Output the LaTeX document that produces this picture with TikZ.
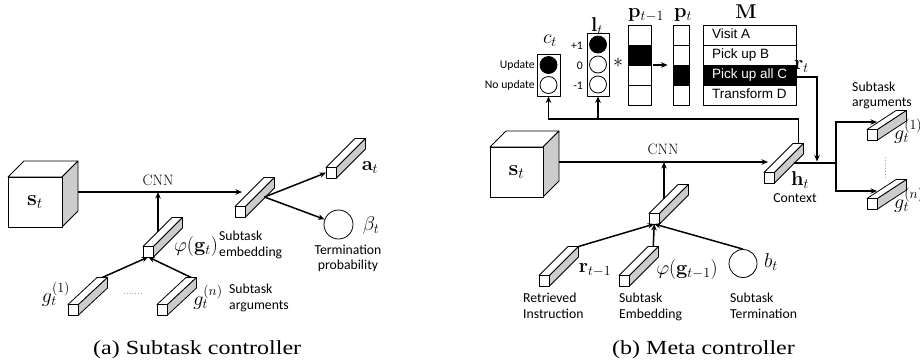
\RequirePackage{fix-cm}
\documentclass[tikz,border=0pt]{standalone}
\usepackage[no-math]{fontspec}
\usetikzlibrary{arrows.meta,calc}
\newfontfamily\labelfont{Carlito}
\newfontfamily\tablefont{Liberation Sans}
\newfontfamily\captionfont{Liberation Serif}
\definecolor{sidegray}{gray}{0.8}

\tikzset{
  outl/.style={draw=black, line width=0.8pt, line join=round},
  wire/.style={line width=1.5pt},
  conn/.style={line width=1.5pt, -{Stealth[length=6.5pt,width=5.5pt]}},
  mlabel/.style={font=\fontsize{20}{22}\selectfont, inner sep=0pt},
  cubelabel/.style={font=\fontsize{22}{24}\selectfont, inner sep=0pt},
  cnnlabel/.style={font=\fontsize{15}{17}\selectfont, inner sep=0pt},
  slabel/.style={font=\labelfont\fontsize{13.7}{15.5}\selectfont, inner sep=0pt, align=left},
  tinylabel/.style={font=\labelfont\fontsize{11.7}{14}\selectfont, inner sep=0pt},
  caplabel/.style={font=\captionfont\fontsize{20}{22}\selectfont, inner sep=0pt},
  memrow/.style={outl, minimum width=93pt, minimum height=20pt, inner xsep=9pt,
    inner ysep=0pt, text height=9.7pt, text depth=2.8pt,
    font=\tablefont\fontsize{13.5}{15}\selectfont},
  lamp/.style={circle, outl, minimum size=17pt, inner sep=0pt},
  % a long 3-D bar seen from the front, receding to the right and up by #1
  pics/bar/.style={code={
    \draw[outl, fill=white] (0,-10.5) -- (29,-10.5-#1) -- (39.5,-10.5-#1) -- (10.5,-10.5) -- cycle;
    \draw[outl, fill=sidegray] (10.5,0) -- (10.5,-10.5) -- (39.5,-10.5-#1) -- (39.5,-#1) -- cycle;
    \draw[outl, fill=white] (0,0) rectangle (10.5,-10.5);
    \coordinate (-fb) at (5.25,0);
    \coordinate (-fl) at (0,-5.25);
    \coordinate (-bt) at (34.25,-10.5-#1);
    \coordinate (-btr) at (39.5,-10.5-#1);
    \coordinate (-rb) at (29.5,-20);
    \coordinate (-up) at (15,-25.5);
    \coordinate (-arg) at (10,-18);
  }},
  pics/bar/.default=29,
  % the state cube: width, height of the front face
  pics/cube/.style 2 args={code={
    \draw[outl, fill=white] (0,-#2) -- (16,-#2-16) -- (#1+16,-#2-16) -- (#1,-#2) -- cycle;
    \draw[outl, fill=sidegray] (#1,0) -- (#1,-#2) -- (#1+16,-#2-16) -- (#1+16,-16) -- cycle;
    \draw[outl, fill=white] (0,0) rectangle (#1,-#2);
    \coordinate (-c) at (#1/2,-#2/2);
    \coordinate (-out) at (#1+16,-35);
  }},
}

\begin{document}
\begin{tikzpicture}[x=1pt,y=-1pt]
\useasboundingbox (0,0) rectangle (920,360);
\clip (0,0) rectangle (920,360);

% ---------------- (a) subtask controller ----------------
\pic (sA) at (8,227) {cube={54}{50}};
\node[cubelabel] (sAlbl) at (sA-c) {$\mathbf{s}_t$};
\pic (gA1) at (68,315) {bar=27};
\pic (gAn) at (157,315) {bar=27};
\pic (phiA) at (143,257) {bar};
\pic (embA) at (235,217) {bar};
\pic (aA) at (326,178) {bar};
\node[circle, outl, minimum size=29pt, inner sep=0pt] (betaA) at (338.5,224.5) {};

\coordinate (embAin) at ($(embA-fl |- sA-out)+(7,0)$);
\coordinate (cnnAjoin) at (phiA-up |- sA-out);
\draw[conn] (sA-out) -- (embAin);
\draw[conn] (phiA-up) -- (cnnAjoin);
\draw[conn] (gA1-bt) -- (phiA-fb);
\draw[conn] (gAn-bt) -- (phiA-fb);
\draw[conn] (embA-rb) -- (aA-fl);
\draw[conn] (embA-rb) -- (betaA);
\draw[gray!70, dotted, line width=0.8pt] (124,293) -- (143,293);

\node[cnnlabel] (cnnA) at (158,180) {CNN};
\node[mlabel] (phiAlbl) at (196,246) {$\varphi(\mathbf{g}_t)$};
\node[slabel, anchor=north west] (embAtxt) at (219,231) {Subtask\\embedding};
\node[mlabel] (aAlbl) at (370,168) {$\mathbf{a}_t$};
\node[mlabel] (betaAlbl) at (371,225) {$\beta_t$};
\node[slabel, align=center, anchor=north] (termA) at (348,244.5) {Termination\\probability};
\node[mlabel] (gA1lbl) at (56,294) {$g_t^{(1)}$};
\node[mlabel] (gAnlbl) at (208,297) {$g_t^{(n)}$};
\node[slabel, anchor=north west] (argA) at (229,284) {Subtask\\arguments};
\node[caplabel, anchor=base west] (capA) at (93,354.5) {\scalebox{1.2}[1]{(a) Subtask controller}};

% ---------------- (b) meta controller ----------------
\pic (sB) at (490,197) {cube={53}{50}};
\node[cubelabel] (sBlbl) at (sB-c) {$\mathbf{s}_t$};
\pic (rB) at (539,286) {bar};
\pic (phiB) at (619,286) {bar};
\pic (midB) at (649,224) {bar};
\node[circle, outl, minimum size=28pt, inner sep=0pt] (bB) at (743,263.5) {};
\pic (hB) at (764,183) {bar};
\pic (g1B) at (867,140) {bar=19};
\pic (gnB) at (867,209) {bar=19};

\coordinate (hBin) at ($(hB-fl |- sB-out)+(4,0)$);
\coordinate (cnnBjoin) at (midB-up |- sB-out);
\draw[conn] (sB-out) -- (hBin);
\draw[conn] (midB-up) -- (cnnBjoin);
\draw[conn] (rB-btr) -- (midB-fb);
\draw[conn] (phiB-bt) -- (midB-fb);
\draw[conn] (bB.north) -- (midB-fb);

% update gate and shift lamps
\node[outl, minimum width=23pt, minimum height=42pt, inner sep=0pt] (cbox) at (548.5,75) {};
\node[lamp, fill=black] (cUpd) at (548.5,65) {};
\node[lamp] (cNo) at (548.5,85) {};
\node[outl, minimum width=22pt, minimum height=63pt, inner sep=0pt] (lbox) at (598,64.5) {};
\node[lamp, fill=black] (lPlus) at (598,44.5) {};
\node[lamp] (lZero) at (598,64.5) {};
\node[lamp] (lMinus) at (598,84.5) {};
\node[tinylabel, anchor=east] (updTxt) at (535,65.5) {Update};
\node[tinylabel, anchor=east] (noTxt) at (535,85.5) {No update};
\node[tinylabel, anchor=base east] (plusTxt) at (583,49) {+1};
\node[tinylabel, anchor=base east] (zeroTxt) at (583,69) {0};
\node[tinylabel, anchor=base east] (minusTxt) at (583,89.5) {-1};
\node[mlabel, anchor=base] (ctlbl) at (550,43) {$c_t$};
\node[mlabel, anchor=base] (ltlbl) at (597,31.5) {$\mathbf{l}_t$};
\node[mlabel] (star) at (618,63) {$\ast$};

% pointer vectors
\fill (628,45) rectangle (651,65);
\node[outl, minimum width=23pt, minimum height=80pt, inner sep=0pt] (pprev) at (639.5,65) {};
\draw[outl] (628,45) -- (651,45) (628,65) -- (651,65) (628,85) -- (651,85);
\fill (673,65) rectangle (689,85);
\node[outl, minimum width=16pt, minimum height=80pt, inner sep=0pt] (pcur) at (681,65) {};
\draw[outl] (673,45) -- (689,45) (673,65) -- (689,65) (673,85) -- (689,85);
\draw[conn, line width=1.3pt] ([xshift=2pt]pprev.east) -- ([xshift=-5pt]pcur.west);
\node[mlabel, anchor=base west] (pprevlbl) at (628,17.5) {$\mathbf{p}_{t-1}$};
\node[mlabel, anchor=base west] (pcurlbl) at (674,17.5) {$\mathbf{p}_t$};

% instruction memory
\node[mlabel, anchor=base] (Mlbl) at (746,18) {$\mathbf{M}$};
\node[memrow] (m1) at (749.5,35) {\makebox[75pt][l]{Visit A}};
\node[memrow] (m2) at (749.5,55) {\makebox[75pt][l]{Pick up B}};
\node[memrow, fill=black, text=white] (m3) at (749.5,75) {\makebox[75pt][l]{Pick up all C}};
\node[memrow] (m4) at (749.5,95) {\makebox[75pt][l]{Transform D}};

\coordinate (rtEnd) at (817,161.5);
\draw[conn] ([yshift=-2pt]m3.east) -| (rtEnd);
\node[mlabel, anchor=base west] (rtlbl) at (794,69) {$\mathbf{r}_t$};

% context feeds the gate and the shift
\coordinate (fbrow) at (0,119);
\draw[conn] (hB-bt) |- (cbox.south |- fbrow) -- (cbox.south);
\draw[conn] (lbox.south |- fbrow) -- (lbox.south);

% context to subtask arguments
\coordinate (split) at (836,163);
\draw[wire] (hB-rb) -- (split);
\draw[conn] (split) |- (g1B-arg);
\draw[conn] (split) |- (gnB-arg);
\draw[gray!70, dotted, line width=0.8pt] (885,157) -- (885,177);

\node[cnnlabel] (cnnB) at (663,149) {CNN};
\node[mlabel] (rBlbl) at (595,270) {$\mathbf{r}_{t-1}$};
\node[mlabel] (phiBlbl) at (687,269) {$\varphi(\mathbf{g}_{t-1})$};
\node[mlabel] (bBlbl) at (771,262) {$b_t$};
\node[mlabel] (hBlbl) at (800,180) {$\mathbf{h}_t$};
\node[slabel, anchor=base] (ctx) at (795,202.3) {Context};
\node[mlabel, anchor=west] (g1Blbl) at (894,131) {$g_t^{(1)}$};
\node[mlabel, anchor=west] (gnBlbl) at (894,200) {$g_t^{(n)}$};
\node[slabel, anchor=north west] (argB) at (852,81.5) {Subtask\\arguments};
\node[slabel, anchor=north west] (retr) at (523,293) {Retrieved\\Instruction};
\node[slabel, anchor=north west] (embB) at (619,293) {Subtask\\Embedding};
\node[slabel, anchor=north west] (termB) at (730,293) {Subtask\\Termination};
\node[caplabel, anchor=base west] (capB) at (612,354.5) {\scalebox{1.2}[1]{(b) Meta controller}};
\end{tikzpicture}
\end{document}
